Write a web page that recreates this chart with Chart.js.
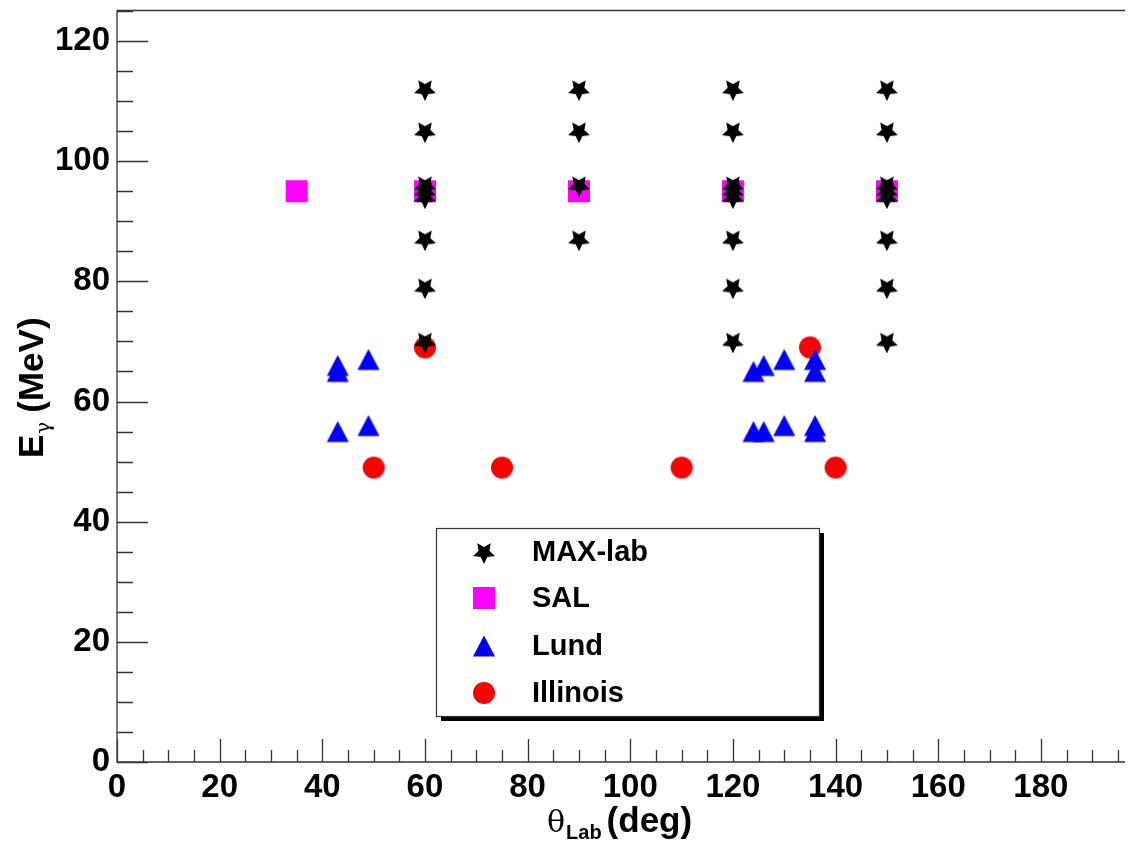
<!DOCTYPE html>
<html>
<head>
<meta charset="utf-8">
<script src="https://cdn.jsdelivr.net/npm/chart.js@4.4.0/dist/chart.umd.min.js"></script>
<style>
  html, body { margin: 0; padding: 0; background: #fff; }
</style>
</head>
<body>
<canvas id="kinematicsChart" width="1128" height="842"></canvas>
<script>
// tick labels
const xTickValues = [0, 20, 40, 60, 80, 100, 120, 140, 160, 180];
const yTickValues = [0, 20, 40, 60, 80, 100, 120];

// MAX-lab
const maxLabAngle  = [60, 60, 60, 60, 60, 60, 60, 60, 90, 90, 90, 90, 120, 120, 120, 120, 120, 120, 120, 120, 150, 150, 150, 150, 150, 150, 150, 150];
const maxLabEnergy = [70, 79, 87, 94, 95, 96, 105, 112, 87, 96, 105, 112, 70, 79, 87, 94, 95, 96, 105, 112, 70, 79, 87, 94, 95, 96, 105, 112];

// SAL
const salAngle  = [35, 60, 90, 120, 150];
const salEnergy = [95, 95, 95, 95, 95];

// Lund
const lundAngle  = [43, 43, 43, 49, 49, 124, 126, 130, 136, 136, 124, 126, 130, 136, 136];
const lundEnergy = [65, 66, 55, 67, 56, 65, 66, 67, 67, 65, 55, 55, 56, 56, 55];

// Illinois
const illinoisAngle  = [50, 60, 75, 110, 135, 140];
const illinoisEnergy = [49, 69, 49, 49, 69, 49];

const toPoints = (xs, ys) => xs.map((x, i) => ({ x: x, y: ys[i] }));

// marker sprites, ROOT style
function makeMarker(kind, color) {
  const size = 24;
  const c = document.createElement('canvas');
  c.width = size; c.height = size;
  const g = c.getContext('2d');
  const m = size / 2;
  g.fillStyle = color;
  g.beginPath();
  if (kind === 'star') {
    const outer = 11.5, inner = 5.6;
    for (let k = 0; k < 10; k++) {
      const r = k % 2 === 0 ? outer : inner;
      const a = Math.PI / 2 + k * Math.PI / 5;
      const px = m + r * Math.cos(a), py = m + 0.5 + r * Math.sin(a);
      if (k === 0) g.moveTo(px, py); else g.lineTo(px, py);
    }
    g.closePath();
  } else if (kind === 'square') {
    g.rect(1, 1, 22, 22);
  } else if (kind === 'triangle') {
    g.moveTo(m, 1.5);
    g.lineTo(m + 11, 22.5);
    g.lineTo(m - 11, 22.5);
    g.closePath();
  } else {
    g.arc(m, m, 11, 0, Math.PI * 2);
  }
  g.fill();
  return c;
}

const starMark = makeMarker('star', '#000000');
const squareMark = makeMarker('square', '#ff00ff');
const triangleMark = makeMarker('triangle', '#0000ff');
const circleMark = makeMarker('circle', '#ff0000');

const tickFont = { family: '"Liberation Sans", Arial, Helvetica, sans-serif', size: 33, weight: 'bold', lineHeight: 1 };

// axis frame with inward ticks
const frameTicks = {
  id: 'frameTicks',
  beforeDatasetsDraw(chart) {
    const { ctx, chartArea: a, scales } = chart;
    const xs = scales.x, ys = scales.y;
    ctx.save();
    ctx.strokeStyle = '#333';
    ctx.lineWidth = 1.3;
    ctx.beginPath();
    ctx.moveTo(a.left, a.top - 0.5);
    ctx.lineTo(a.right + 2, a.top - 0.5);
    ctx.moveTo(a.left, a.top - 0.5);
    ctx.lineTo(a.left, a.bottom);
    ctx.lineTo(a.right + 2, a.bottom);
    for (let v = 0; v <= xs.max; v += 5) {
      const px = Math.round(xs.getPixelForValue(v)) + 0.5;
      const len = v % 20 === 0 ? 23 : 12;
      ctx.moveTo(px, a.bottom);
      ctx.lineTo(px, a.bottom - len);
    }
    for (let v = 0; v <= ys.max; v += 5) {
      const py = Math.round(ys.getPixelForValue(v)) + 0.5;
      const len = v % 20 === 0 ? 31 : 16;
      ctx.moveTo(a.left, py);
      ctx.lineTo(a.left + len, py);
    }
    ctx.stroke();
    ctx.restore();
  },
  afterDraw(chart) {
    const { ctx } = chart;
    ctx.save();
    ctx.fillStyle = '#000';
    ctx.textBaseline = 'alphabetic';
    ctx.textAlign = 'left';

    // x title: theta_Lab (deg)
    let x = 547;
    ctx.font = '30px "DejaVu Serif", "Liberation Serif", serif';
    ctx.fillText('θ', x, 832);
    x += ctx.measureText('θ').width + 1;
    ctx.font = 'bold 20px "Liberation Sans", Arial, sans-serif';
    ctx.fillText('Lab', x, 839);
    x += ctx.measureText('Lab').width + 5;
    ctx.font = 'bold 35px "Liberation Sans", Arial, sans-serif';
    ctx.fillText('(deg)', x, 832);

    // y title: E_gamma (MeV)
    ctx.translate(43, 458);
    ctx.rotate(-Math.PI / 2);
    ctx.font = 'bold 35px "Liberation Sans", Arial, sans-serif';
    ctx.fillText('E', 0, 0);
    let t = ctx.measureText('E').width + 1;
    ctx.font = '20px "DejaVu Serif", "Liberation Serif", serif';
    ctx.fillText('γ', t, 7);
    t += ctx.measureText('γ').width + 9;
    ctx.font = 'bold 35px "Liberation Sans", Arial, sans-serif';
    ctx.fillText('(MeV)', t, 0);
    ctx.restore();
  }
};

// boxed legend with drop shadow
const boxLegend = {
  id: 'boxLegend',
  afterDraw(chart) {
    const { ctx } = chart;
    const left = 436, top = 528, w = 383, h = 188, shadow = 5;
    ctx.save();
    ctx.fillStyle = '#000';
    ctx.fillRect(left + shadow, top + shadow, w, h);
    ctx.fillStyle = '#fff';
    ctx.fillRect(left, top, w, h);
    ctx.strokeStyle = '#333';
    ctx.lineWidth = 1.2;
    ctx.strokeRect(left + 0.5, top + 0.5, w, h);
    ctx.font = 'bold 29px "Liberation Sans", Arial, sans-serif';
    ctx.fillStyle = '#000';
    ctx.textBaseline = 'middle';
    const rows = [552, 598, 646, 693];
    chart.data.datasets.forEach((ds, i) => {
      const img = ds.pointStyle;
      ctx.drawImage(img, 484 - img.width / 2, rows[i] - img.height / 2);
      ctx.fillText(ds.label, 532, rows[i] + 1);
    });
    ctx.restore();
  }
};

new Chart(document.getElementById('kinematicsChart'), {
  type: 'scatter',
  data: {
    datasets: [
      { label: 'MAX-lab', data: toPoints(maxLabAngle, maxLabEnergy), pointStyle: starMark },
      { label: 'SAL', data: toPoints(salAngle, salEnergy), pointStyle: squareMark },
      { label: 'Lund', data: toPoints(lundAngle, lundEnergy), pointStyle: triangleMark },
      { label: 'Illinois', data: toPoints(illinoisAngle, illinoisEnergy), pointStyle: circleMark }
    ]
  },
  options: {
    responsive: false,
    animation: false,
    layout: { padding: { top: 11, right: 1, left: 0, bottom: 0 } },
    plugins: {
      legend: { display: false },
      tooltip: { enabled: false }
    },
    scales: {
      x: {
        type: 'linear',
        min: 0,
        max: 196,
        grid: { display: false, drawTicks: false },
        border: { display: false },
        ticks: { font: tickFont, color: '#000', padding: 9, maxRotation: 0, autoSkip: false },
        afterBuildTicks: s => { s.ticks = xTickValues.map(v => ({ value: v })); },
        afterFit: s => { s.height = 80; s.paddingLeft = 0; s.paddingRight = 0; }
      },
      y: {
        type: 'linear',
        min: 0,
        max: 125,
        grid: { display: false, drawTicks: false },
        border: { display: false },
        ticks: { font: tickFont, color: '#000', padding: 7, autoSkip: false },
        afterBuildTicks: s => { s.ticks = yTickValues.map(v => ({ value: v })); },
        afterFit: s => { s.width = 117; s.paddingTop = 0; s.paddingBottom = 0; }
      }
    }
  },
  plugins: [frameTicks, boxLegend]
});
</script>
</body>
</html>
